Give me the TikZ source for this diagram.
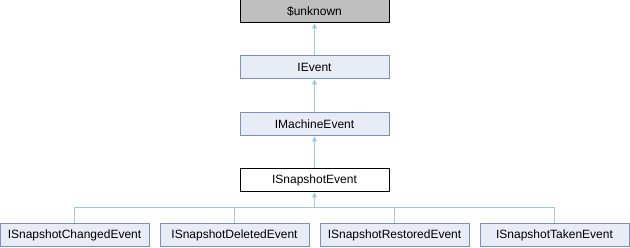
\documentclass[tikz,border=0pt]{standalone}
\usepackage{fontspec}
\setmainfont{Liberation Sans}
\usetikzlibrary{arrows.meta}
\definecolor{boxfill}{HTML}{E8ECF5}
\definecolor{boxline}{HTML}{7A8FCA}
\definecolor{edgecol}{HTML}{9CC8E4}
\definecolor{greyfill}{HTML}{BFBFBF}
\tikzset{
  cls/.style={draw=boxline, fill=boxfill, line width=1pt, minimum width=149pt, minimum height=23pt, inner sep=0pt, font=\fontsize{12pt}{14pt}\selectfont},
  ext/.style={cls, draw=black, fill=greyfill},
  cur/.style={cls, draw=black, fill=white},
  edge/.style={draw=edgecol, line width=1pt, -{Triangle[length=5pt,width=5pt]}}
}
\begin{document}
\begin{tikzpicture}[x=1pt,y=-1pt]
\useasboundingbox (0,0) rectangle (630,248);
\node[ext] (unk) at (314.5,11.5) {\$unknown};
\node[cls] (ievent) at (314.5,67.5) {IEvent};
\node[cls] (imach) at (314.5,124.5) {IMachineEvent};
\node[cur] (isnap) at (314.5,180.5) {ISnapshotEvent};
\node[cls] (c1) at (74.5,235.5) {ISnapshotChangedEvent};
\node[cls] (c2) at (234.5,235.5) {ISnapshotDeletedEvent};
\node[cls] (c3) at (394.5,235.5) {ISnapshotRestoredEvent};
\node[cls] (c4) at (554.5,235.5) {ISnapshotTakenEvent};
\coordinate (bus) at (314.5,208);
\draw[edge] (ievent.north) -- (unk.south);
\draw[edge] (imach.north) -- (ievent.south);
\draw[edge] (isnap.north) -- (imach.south);
\draw[draw=edgecol, line width=1pt] (c1.north) |- (bus);
\draw[draw=edgecol, line width=1pt] (c2.north) |- (bus);
\draw[draw=edgecol, line width=1pt] (c3.north) |- (bus);
\draw[draw=edgecol, line width=1pt] (c4.north) |- (bus);
\draw[edge] (bus) -- (isnap.south);
\end{tikzpicture}
\end{document}
